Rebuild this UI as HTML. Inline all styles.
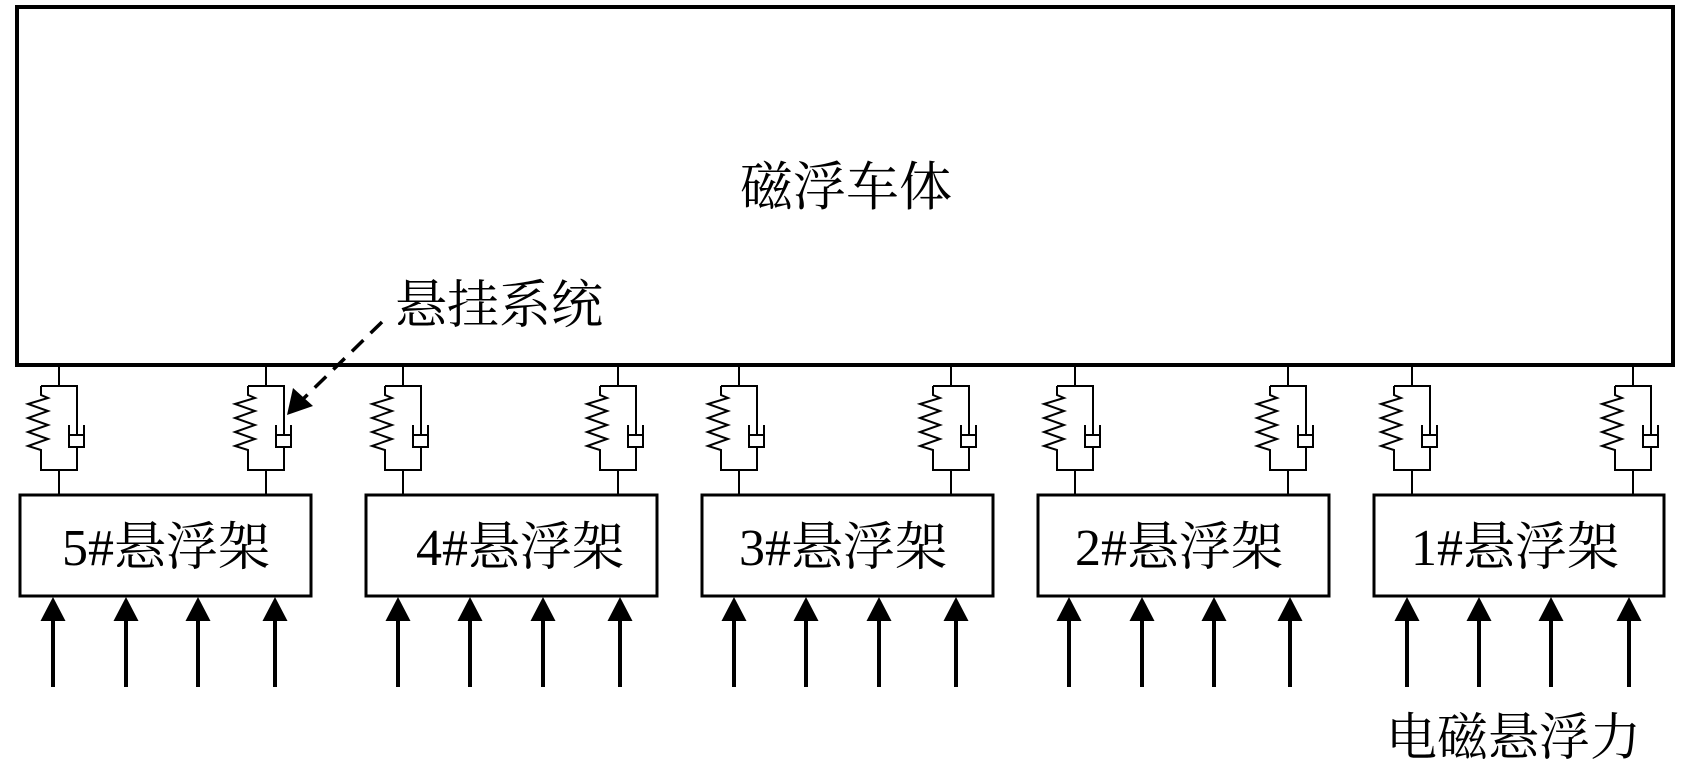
<!DOCTYPE html>
<html><head><meta charset="utf-8"><style>
html,body{margin:0;padding:0;background:#fff}
svg{display:block}
text{font-family:"Liberation Serif","Noto Serif CJK SC",serif;fill:#000}
</style></head><body>
<svg width="1685" height="773" viewBox="0 0 1685 773" xmlns="http://www.w3.org/2000/svg">
<defs>
<g id="s" fill="none" stroke="#000" stroke-width="2">
<path d="M0,366V386M0,470V494"/>
<path d="M-18,386H18V435M18,447V470H-18V450L-31,446L-11,439L-31,432L-11,425L-31,418L-11,411L-31,404L-11,398L-18,395V386"/>
<path d="M10,425V447H25V425"/>
<rect x="10" y="435" width="15" height="12"/>
</g>
<g id="a">
<line x1="0" y1="687" x2="0" y2="618" stroke="#000" stroke-width="4"/>
<polygon points="0,597 -12.5,621 12.5,621" fill="#000"/>
</g>
</defs>
<rect x="17" y="7" width="1656" height="358" fill="none" stroke="#000" stroke-width="4"/>
<text x="846" y="205" font-size="53" text-anchor="middle">磁浮车体</text>
<text x="395" y="323" font-size="52">悬挂系统</text>
<line x1="382" y1="322" x2="300" y2="402" stroke="#000" stroke-width="3.5" stroke-dasharray="16,10"/>
<polygon points="287,415 293,388 313,406" fill="#000"/>
<use href="#s" x="59"/><use href="#s" x="266"/>
<use href="#s" x="403"/><use href="#s" x="618"/>
<use href="#s" x="739"/><use href="#s" x="951"/>
<use href="#s" x="1075"/><use href="#s" x="1288"/>
<use href="#s" x="1412"/><use href="#s" x="1633"/>
<g fill="none" stroke="#000" stroke-width="3">
<rect x="20" y="495" width="291" height="101"/>
<rect x="366" y="495" width="291" height="101"/>
<rect x="702" y="495" width="291" height="101"/>
<rect x="1038" y="495" width="291" height="101"/>
<rect x="1374" y="495" width="290" height="101"/>
</g>
<g font-size="52">
<text x="62" y="565">5#悬浮架</text>
<text x="416" y="565">4#悬浮架</text>
<text x="739" y="565">3#悬浮架</text>
<text x="1075" y="565">2#悬浮架</text>
<text x="1411" y="565">1#悬浮架</text>
</g>
<use href="#a" x="53"/><use href="#a" x="126"/><use href="#a" x="198"/><use href="#a" x="275"/>
<use href="#a" x="398"/><use href="#a" x="470"/><use href="#a" x="543"/><use href="#a" x="620"/>
<use href="#a" x="734"/><use href="#a" x="806"/><use href="#a" x="879"/><use href="#a" x="956"/>
<use href="#a" x="1069"/><use href="#a" x="1142"/><use href="#a" x="1214"/><use href="#a" x="1290"/>
<use href="#a" x="1407"/><use href="#a" x="1479"/><use href="#a" x="1551"/><use href="#a" x="1629"/>
<text x="1386" y="755" font-size="51">电磁悬浮力</text>
</svg>
</body></html>
